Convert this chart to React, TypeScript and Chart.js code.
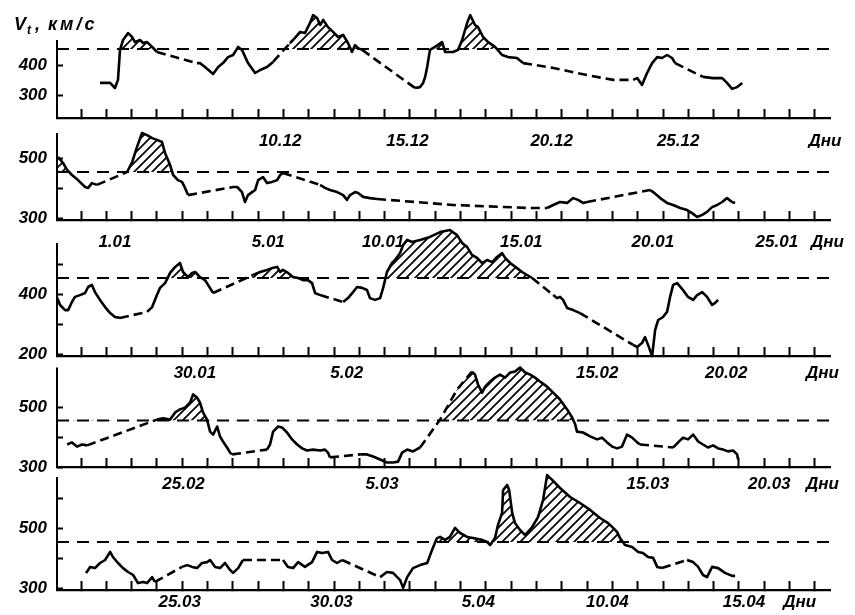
import React, { useEffect, useRef } from 'react';
import { Chart, registerables } from 'chart.js';

Chart.register(...registerables);

const THRESHOLD = 455;
const X_MIN = -0.95;
const X_MAX = 29.6;
const DAY_TICKS = [0, 1, 2, 3, 4, 5, 6, 7, 8, 9, 10, 11, 12, 13, 14, 15, 16, 17, 18, 19, 20, 21, 22, 23, 24, 25, 26, 27, 28, 29];

// ---- Panel 1 (December) ----
const p1Day = [
  0.75, 1.15, 1.34, 1.46, 1.54, 1.66, 1.86, 2.02, 2.13, 2.33,
  2.45, 2.61, 2.81, 3.0, 4.58, 4.7, 4.9, 5.22, 5.42, 5.61,
  5.81, 6.01, 6.21, 6.36, 6.6, 6.88, 7.08, 7.35, 7.59, 8.26,
  8.38, 8.66, 8.85, 9.05, 9.17, 9.33, 9.45, 9.57, 9.76, 9.96,
  10.16, 10.36, 10.55, 10.71, 10.83, 10.95, 11.11, 13.2, 13.4, 13.52,
  13.6, 13.68, 13.79, 13.99, 14.27, 14.39, 14.7, 14.9, 15.06, 15.26,
  15.38, 15.57, 15.69, 15.89, 16.09, 16.36, 16.64, 16.88, 17.23, 17.47,
  18.66, 20.0, 21.03, 21.82, 21.98, 22.17, 22.37, 22.57, 22.77, 22.96,
  23.16, 23.36, 23.48, 24.58, 24.98, 25.34, 25.53, 25.73, 25.93, 26.13,
];
const p1Speed = [
  342, 342, 325, 352, 452, 485, 508, 495, 478, 485,
  475, 478, 462, 445, 408, 408, 395, 372, 395, 408,
  428, 435, 462, 452, 408, 375, 385, 395, 412, 475,
  485, 512, 508, 542, 568, 558, 535, 552, 528, 512,
  495, 502, 475, 445, 468, 458, 452, 325, 328, 342,
  362, 395, 452, 462, 478, 445, 445, 452, 485, 542,
  568, 535, 528, 495, 478, 462, 435, 428, 425, 408,
  392, 368, 352, 352, 358, 335, 375, 408, 428, 425,
  435, 425, 408, 362, 358, 358, 342, 322, 328, 342,
];
const p1DateLabels = ['10.12', '15.12', '20.12', '25.12', 'Дни'];
const p1DateAt = [7.87, 12.9, 18.6, 23.6, 29.4];
const p1YTicks = [300, 400];
const p1YLabels = [300, 400];

// ---- Panel 2 (January) ----
const p2Day = [
  -0.91, -0.71, -0.55, -0.36, -0.12, 0.16, 0.28, 0.43, 0.63, 1.82,
  2.02, 2.21, 2.41, 2.61, 2.81, 3.0, 3.2, 3.32, 3.52, 3.64,
  3.83, 3.99, 4.11, 4.23, 6.01, 6.17, 6.36, 6.48, 6.6, 6.76,
  6.88, 7.0, 7.19, 7.35, 7.55, 7.75, 7.87, 7.98, 9.45, 9.64,
  9.84, 10.12, 10.36, 10.51, 10.63, 10.83, 10.95, 11.15, 11.42, 11.7,
  14.7, 17.75, 18.42, 18.66, 18.93, 19.21, 19.45, 19.64, 19.84, 20.0,
  22.49, 22.61, 22.89, 23.16, 23.4, 23.68, 23.95, 24.15, 24.35, 24.55,
  24.74, 24.94, 25.14, 25.34, 25.53, 25.73, 25.85,
];
const p2Speed = [
  505, 485, 462, 445, 428, 405, 402, 418, 412, 455,
  488, 538, 585, 578, 568, 562, 555, 518, 478, 445,
  428, 422, 402, 378, 405, 405, 388, 355, 378, 388,
  395, 428, 438, 418, 422, 428, 445, 452, 412, 402,
  395, 388, 378, 362, 378, 388, 385, 372, 368, 365,
  345, 335, 335, 345, 355, 352, 368, 362, 352, 355,
  395, 388, 368, 352, 345, 335, 328, 318, 305, 312,
  322, 338, 345, 355, 368, 355, 352,
];
const p2DateLabels = ['1.01', '5.01', '10.01', '15.01', '20.01', '25.01', 'Дни'];
const p2DateAt = [1.34, 7.4, 11.94, 17.4, 22.6, 27.5, 29.5];
const p2YTicks = [300, 400, 500];
const p2YLabels = [300, 500];

// ---- Panel 3 (late January - February) ----
const p3Day = [
  -0.94, -0.83, -0.63, -0.51, -0.36, -0.24, -0.04, 0.16, 0.28, 0.43,
  0.55, 0.75, 0.95, 1.15, 1.34, 1.54, 2.61, 2.81, 3.0, 3.12,
  3.32, 3.52, 3.72, 3.91, 4.03, 4.23, 4.39, 4.51, 4.7, 4.9,
  5.02, 5.22, 6.8, 7.08, 7.35, 7.55, 7.75, 7.87, 7.98, 8.18,
  8.38, 8.58, 8.77, 8.97, 9.13, 9.25, 9.45, 10.36, 10.55, 10.75,
  10.91, 11.11, 11.3, 11.42, 11.62, 11.82, 11.94, 12.09, 12.29, 12.41,
  12.61, 12.73, 12.89, 13.08, 13.4, 13.79, 14.19, 14.58, 14.86, 15.06,
  15.26, 15.45, 15.65, 15.85, 16.05, 16.25, 16.44, 16.64, 16.76, 16.96,
  17.23, 17.43, 17.63, 17.83, 18.66, 18.81, 18.93, 19.05, 19.21, 19.45,
  19.72, 21.82, 21.98, 22.17, 22.29, 22.41, 22.57, 22.69, 22.81, 23.0,
  23.16, 23.28, 23.4, 23.56, 23.79, 23.99, 24.19, 24.35, 24.55, 24.74,
  24.94, 25.06, 25.18,
];
const p3Speed = [
  388, 365, 348, 348, 375, 392, 398, 405, 425, 432,
  408, 382, 358, 338, 325, 322, 342, 358, 398, 422,
  438, 472, 492, 505, 475, 458, 472, 475, 458, 448,
  432, 405, 465, 475, 482, 488, 492, 475, 482, 472,
  458, 455, 448, 448, 438, 405, 398, 375, 388, 408,
  425, 422, 415, 388, 382, 388, 422, 475, 505, 515,
  538, 565, 582, 575, 582, 592, 608, 615, 598, 572,
  558, 532, 522, 505, 515, 508, 525, 538, 522, 505,
  488, 475, 465, 455, 398, 388, 392, 382, 355, 348,
  338, 232, 225, 238, 258, 232, 195, 282, 315, 325,
  342, 392, 432, 438, 415, 392, 382, 398, 408, 392,
  365, 372, 382,
];
const p3DateLabels = ['30.01', '5.02', '15.02', '20.02', 'Дни'];
const p3DateAt = [4.5, 10.5, 20.4, 25.5, 29.3];
const p3YTicks = [200, 300, 400, 500];
const p3YLabels = [200, 400];

// ---- Panel 4 (late February - March) ----
const p4Day = [
  -0.55, -0.36, -0.16, 0.04, 0.24, 3.0, 3.24, 3.52, 3.72, 3.91,
  4.11, 4.31, 4.43, 4.58, 4.7, 4.82, 4.98, 5.1, 5.22, 5.38,
  5.49, 5.61, 5.77, 5.89, 5.97, 7.35, 7.47, 7.59, 7.79, 7.94,
  8.14, 8.34, 8.54, 8.74, 8.93, 9.17, 9.45, 9.64, 9.76, 9.84,
  11.03, 11.3, 11.54, 11.82, 12.09, 12.33, 12.53, 12.69, 12.89, 13.12,
  13.4, 14.19, 14.86, 15.45, 15.57, 15.69, 15.85, 15.97, 16.17, 16.36,
  16.56, 16.76, 16.96, 17.15, 17.35, 17.55, 17.75, 17.94, 18.14, 18.42,
  18.66, 18.93, 19.21, 19.41, 19.53, 19.6, 19.84, 20.12, 20.4, 20.59,
  20.79, 20.99, 21.19, 21.38, 21.58, 21.78, 21.98, 22.09, 23.4, 23.6,
  23.79, 23.99, 24.19, 24.39, 24.58, 24.78, 24.98, 25.18, 25.38, 25.57,
  25.77, 25.93, 25.97,
];
const p4Speed = [
  375, 382, 368, 375, 372, 458, 462, 458, 482, 492,
  498, 515, 542, 532, 515, 482, 458, 418, 408, 435,
  402, 385, 365, 348, 342, 358, 375, 418, 435, 432,
  415, 392, 375, 362, 355, 358, 355, 358, 348, 332,
  342, 342, 335, 325, 315, 315, 318, 348, 358, 352,
  365, 458, 558, 618, 608, 575, 548, 568, 585, 598,
  608, 598, 615, 618, 632, 615, 608, 598, 585, 568,
  548, 525, 492, 465, 442, 418, 415, 402, 392, 398,
  382, 368, 362, 368, 408, 398, 382, 375, 365, 382,
  398, 392, 408, 385, 375, 365, 372, 362, 358, 352,
  355, 342, 325,
];
const p4DateLabels = ['25.02', '5.03', '15.03', '20.03', 'Дни'];
const p4DateAt = [4.05, 11.9, 22.4, 27.2, 29.3];
const p4YTicks = [300, 400, 500];
const p4YLabels = [300, 500];

// ---- Panel 5 (late March - April) ----
const p5Day = [
  0.2, 0.36, 0.55, 0.75, 0.95, 1.15, 1.26, 1.46, 1.66, 1.86,
  2.06, 2.25, 2.45, 2.61, 2.81, 2.92, 3.99, 4.19, 4.39, 4.58,
  4.78, 4.98, 5.1, 5.3, 5.49, 5.69, 5.89, 6.01, 6.21, 6.4,
  7.98, 8.18, 8.38, 8.58, 8.85, 9.13, 9.33, 9.53, 9.76, 9.92,
  10.12, 10.32, 11.82, 12.09, 12.33, 12.61, 12.73, 12.89, 13.12, 13.4,
  13.68, 13.87, 14.07, 14.19, 14.39, 14.58, 14.78, 14.98, 15.26, 15.49,
  15.85, 16.05, 16.17, 16.36, 16.48, 16.64, 16.68, 16.84, 16.92, 17.04,
  17.15, 17.35, 17.55, 17.83, 18.06, 18.26, 18.42, 18.62, 18.93, 19.33,
  19.72, 20.12, 20.51, 20.83, 21.03, 21.19, 21.3, 21.5, 21.78, 22.02,
  22.21, 22.41, 22.61, 22.77, 22.96, 23.95, 24.19, 24.39, 24.58, 24.74,
  24.94, 25.18, 25.45, 25.73, 25.85,
];
const p5Speed = [
  352, 372, 368, 385, 395, 422, 405, 385, 368, 355,
  345, 318, 322, 318, 338, 322, 372, 378, 372, 368,
  385, 388, 395, 372, 368, 385, 362, 352, 368, 395,
  395, 372, 368, 388, 372, 388, 422, 418, 422, 395,
  385, 395, 338, 355, 352, 328, 302, 338, 368, 378,
  385, 428, 468, 472, 462, 472, 502, 485, 472, 468,
  462, 455, 445, 468, 512, 552, 628, 645, 628, 552,
  518, 495, 478, 505, 538, 595, 678, 662, 635, 605,
  585, 562, 535, 518, 502, 488, 468, 445, 438, 422,
  418, 405, 402, 372, 368, 395, 388, 372, 345, 338,
  372, 368, 352, 342, 342,
];
const p5DateLabels = ['25.03', '30.03', '5.04', '10.04', '15.04', 'Дни'];
const p5DateAt = [3.9, 9.9, 15.7, 20.8, 26.2, 28.4];
const p5YTicks = [300, 400, 500, 600];
const p5YLabels = [300, 500];

// ---- layout (pixels) ----
const PX_PER_UNIT = 0.3;
const PANELS = [
  { day: p1Day, speed: p1Speed, dateLabels: p1DateLabels, dateAt: p1DateAt, yTicks: p1YTicks, yLabels: p1YLabels, yMin: 225, yMax: 590, axisTop: 485, axisY: 118, labelPad: 21.8, title: true },
  { day: p2Day, speed: p2Speed, dateLabels: p2DateLabels, dateAt: p2DateAt, yTicks: p2YTicks, yLabels: p2YLabels, yMin: 295, yMax: 600, axisTop: 585, axisY: 220, labelPad: 20.8, title: false },
  { day: p3Day, speed: p3Speed, dateLabels: p3DateLabels, dateAt: p3DateAt, yTicks: p3YTicks, yLabels: p3YLabels, yMin: 195, yMax: 620, axisTop: 572, axisY: 356, labelPad: 15.8, title: false },
  { day: p4Day, speed: p4Speed, dateLabels: p4DateLabels, dateAt: p4DateAt, yTicks: p4YTicks, yLabels: p4YLabels, yMin: 300, yMax: 640, axisTop: 632, axisY: 467, labelPad: 15.8, title: false },
  { day: p5Day, speed: p5Speed, dateLabels: p5DateLabels, dateAt: p5DateAt, yTicks: p5YTicks, yLabels: p5YLabels, yMin: 295, yMax: 690, axisTop: 672, axisY: 590, labelPad: 10.8, title: false },
];

const FONT = { family: '"Liberation Sans", Arial, sans-serif', size: 17, style: 'italic' as const, weight: 'bold' as const };

const axisLinePlugin = {
  id: 'yAxisLine',
  afterDraw(chart: any, _args: any, opts: any) {
    const y = chart.scales.y;
    const ctx = chart.ctx;
    ctx.save();
    ctx.strokeStyle = '#000';
    ctx.lineWidth = 2;
    ctx.beginPath();
    ctx.moveTo(y.right, y.getPixelForValue(opts.top));
    ctx.lineTo(y.right, y.bottom + 1);
    ctx.stroke();
    if (opts.title) {
      ctx.fillStyle = '#000';
      ctx.textBaseline = 'alphabetic';
      ctx.font = 'italic bold 18px "Liberation Sans", Arial, sans-serif';
      ctx.fillText('V', 14, 30);
      ctx.font = 'italic bold 12px "Liberation Sans", Arial, sans-serif';
      ctx.fillText('t', 27, 34);
      ctx.font = 'italic bold 18px "Liberation Sans", Arial, sans-serif';
      ctx.fillText(',', 35, 30);
      try {
        (ctx as any).letterSpacing = '3px';
      } catch (e) {
        /* ignore */
      }
      ctx.fillText('км/с', 48, 30);
      try {
        (ctx as any).letterSpacing = '0px';
      } catch (e) {
        /* ignore */
      }
    }
    ctx.restore();
  },
};

function makeConfig(p: any, hatch: any) {
  const top = p.axisY - (p.yMax - p.yMin) * PX_PER_UNIT;
  const xTicks = [
    ...DAY_TICKS.map((v) => ({ value: v, lbl: '' })),
    ...p.dateAt.map((v: number, k: number) => ({ value: v, lbl: p.dateLabels[k] })),
  ].sort((a, b) => a.value - b.value);
  return {
    type: 'line',
    data: {
      datasets: [
        {
          data: p.day.map((d: number, k: number) => ({ x: d, y: p.speed[k] })),
          borderColor: '#000',
          borderWidth: 2.6,
          pointRadius: 0,
          tension: 0,
          clip: false,
          borderJoinStyle: 'round',
          fill: { target: { value: THRESHOLD }, above: hatch, below: 'rgba(0,0,0,0)' },
          segment: {
            borderDash: (c: any) => (c.p1.parsed.x - c.p0.parsed.x > 0.45 ? [9, 5] : undefined),
          },
          order: 1,
        },
        {
          data: [
            { x: X_MIN, y: THRESHOLD },
            { x: X_MAX, y: THRESHOLD },
          ],
          borderColor: '#000',
          borderWidth: 2.2,
          borderDash: [12, 8],
          pointRadius: 0,
          fill: false,
          order: 2,
        },
      ],
    },
    options: {
      responsive: false,
      animation: false,
      events: [],
      layout: { padding: { left: 0, right: 25, top, bottom: 615 - p.axisY - 30 } },
      plugins: {
        legend: { display: false },
        tooltip: { enabled: false },
        yAxisLine: { top: p.axisTop, title: p.title },
      },
      scales: {
        x: {
          type: 'linear',
          min: X_MIN,
          max: X_MAX,
          afterBuildTicks: (s: any) => {
            s.ticks = xTicks.map((t) => ({ ...t }));
          },
          afterFit: (s: any) => {
            s.height = 30;
            s.paddingLeft = 0;
            s.paddingRight = 0;
          },
          border: { display: true, color: '#000', width: 2.2 },
          grid: {
            drawOnChartArea: false,
            drawTicks: true,
            tickLength: -9,
            tickWidth: 2,
            tickColor: (c: any) => (c.tick && c.tick.lbl ? 'rgba(0,0,0,0)' : '#000'),
          },
          ticks: {
            autoSkip: false,
            maxRotation: 0,
            minRotation: 0,
            padding: p.labelPad,
            color: '#000',
            font: FONT,
            callback: (_v: any, idx: number, ticks: any[]) => (ticks[idx] && ticks[idx].lbl) || '',
          },
        },
        y: {
          type: 'linear',
          min: p.yMin,
          max: p.yMax,
          afterBuildTicks: (s: any) => {
            s.ticks = p.yTicks.map((v: number) => ({ value: v }));
          },
          afterFit: (s: any) => {
            s.width = 57;
            s.paddingTop = 0;
            s.paddingBottom = 0;
          },
          border: { display: false },
          grid: {
            drawOnChartArea: false,
            drawTicks: true,
            tickLength: -6,
            tickWidth: 2,
            tickColor: '#000',
          },
          ticks: {
            autoSkip: false,
            padding: 16,
            color: '#000',
            font: FONT,
            callback: (v: any) => (p.yLabels.includes(v) ? String(v) : ''),
          },
        },
      },
    },
    plugins: [axisLinePlugin],
  };
}

export default function App() {
  const refs = useRef<(HTMLCanvasElement | null)[]>([]);

  useEffect(() => {
    const tile = document.createElement('canvas');
    const S = 9;
    tile.width = S;
    tile.height = S;
    const tc = tile.getContext('2d')!;
    tc.strokeStyle = '#000';
    tc.lineWidth = 1.7;
    tc.beginPath();
    tc.moveTo(-1, S + 1);
    tc.lineTo(S + 1, -1);
    tc.moveTo(-1, 1);
    tc.lineTo(1, -1);
    tc.moveTo(S - 1, S + 1);
    tc.lineTo(S + 1, S - 1);
    tc.stroke();
    const hatch = tc.createPattern(tile, 'repeat');

    const charts = PANELS.map((p, i) => new Chart(refs.current[i] as HTMLCanvasElement, makeConfig(p, hatch) as any));
    return () => {
      charts.forEach((c) => c.destroy());
    };
  }, []);

  return (
    <div style={{ position: 'absolute', left: 0, top: 0, width: 855, height: 615, background: '#fff' }}>
      {PANELS.map((_, i) => (
        <canvas
          key={i}
          ref={(el) => {
            refs.current[i] = el;
          }}
          width={855}
          height={615}
          style={{ position: 'absolute', left: 0, top: 0, width: 855, height: 615 }}
        />
      ))}
    </div>
  );
}
